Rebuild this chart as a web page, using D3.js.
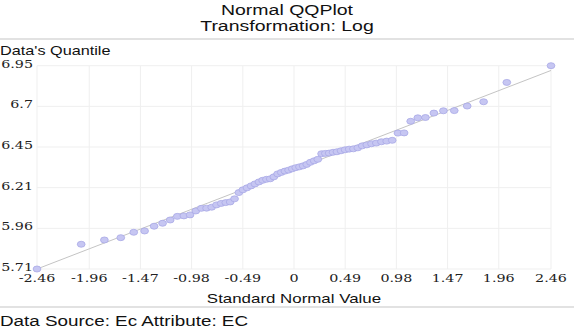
<!DOCTYPE html>
<html>
<head>
<meta charset="utf-8">
<script src="https://cdn.jsdelivr.net/npm/d3@7"></script>
<style>
  html, body { margin: 0; padding: 0; background: #fff; }
  svg { display: block; }
</style>
</head>
<body>
<div id="chart"></div>
<script>
// Normal QQ plot, log-transformed EC values

// theoretical normal quantiles (x) and sorted data quantiles (y)
const normalQuantiles = [
  -2.460, -2.037, -1.815, -1.658, -1.534, -1.430, -1.339, -1.258, -1.185, -1.117,
  -1.054, -0.995, -0.940, -0.887, -0.837, -0.788, -0.742, -0.697, -0.653, -0.611,
  -0.569, -0.528, -0.489, -0.450, -0.411, -0.374, -0.336, -0.300, -0.264, -0.228,
  -0.193, -0.157, -0.122, -0.087, -0.052, -0.017, 0.017, 0.052, 0.087, 0.122,
  0.157, 0.193, 0.228, 0.264, 0.300, 0.336, 0.374, 0.411, 0.450, 0.489,
  0.528, 0.569, 0.611, 0.653, 0.697, 0.742, 0.788, 0.837, 0.887, 0.940,
  0.995, 1.054, 1.117, 1.185, 1.258, 1.339, 1.430, 1.534, 1.658, 1.815,
  2.037, 2.460
];
const dataQuantiles = [
  5.710, 5.861, 5.887, 5.901, 5.934, 5.942, 5.971, 5.989, 6.009, 6.031,
  6.034, 6.040, 6.064, 6.080, 6.081, 6.087, 6.101, 6.110, 6.115, 6.119,
  6.138, 6.176, 6.193, 6.205, 6.217, 6.229, 6.241, 6.251, 6.257, 6.260,
  6.272, 6.290, 6.299, 6.307, 6.313, 6.321, 6.328, 6.333, 6.339, 6.348,
  6.361, 6.370, 6.379, 6.413, 6.415, 6.417, 6.422, 6.425, 6.431, 6.437,
  6.441, 6.443, 6.449, 6.461, 6.467, 6.474, 6.478, 6.486, 6.490, 6.495,
  6.539, 6.540, 6.611, 6.632, 6.634, 6.661, 6.675, 6.676, 6.704, 6.730,
  6.848, 6.950
];

// reference line end points
const refLineX = [-2.46, 2.46];
const refLineY = [5.71, 6.921];

const xTicks = [-2.46, -1.96, -1.47, -0.98, -0.49, 0, 0.49, 0.98, 1.47, 1.96, 2.46];
const xTickLabels = ['-2.46', '-1.96', '-1.47', '-0.98', '-0.49', '0', '0.49', '0.98', '1.47', '1.96', '2.46'];
const yTicks = [5.71, 5.958, 6.206, 6.454, 6.702, 6.95];
const yTickLabels = ['5.71', '5.96', '6.21', '6.45', '6.7', '6.95'];

// the picture is horizontally stretched, so draw in a narrower box and stretch it
const sx = 1.3;
const W = 574 / sx, H = 330;

const svg = d3.select('#chart').append('svg')
    .attr('width', 574)
    .attr('height', 330)
    .attr('viewBox', `0 0 ${W} ${H}`)
    .attr('preserveAspectRatio', 'none');

const plot = { left: 37 / sx, right: 551 / sx, top: 65.7, bottom: 269 };

const x = d3.scaleLinear().domain([-2.46, 2.46]).range([plot.left, plot.right]);
const y = d3.scaleLinear().domain([5.71, 6.95]).range([plot.bottom, plot.top]);

const sans = 'Arial, "Liberation Sans", Helvetica, sans-serif';
const serif = '"DejaVu Serif", serif';

// titles
svg.append('text')
    .attr('x', W / 2).attr('y', 15)
    .attr('text-anchor', 'middle')
    .style('font-family', sans).style('font-size', '15px').style('fill', '#111')
    .text('Normal QQPlot');
svg.append('text')
    .attr('x', W / 2).attr('y', 31)
    .attr('text-anchor', 'middle')
    .style('font-family', sans).style('font-size', '15px').style('fill', '#111')
    .text('Transformation: Log');

// separators
svg.append('rect').attr('x', 0).attr('y', 38).attr('width', W).attr('height', 2).attr('fill', '#e2e2e2');
svg.append('rect').attr('x', 0).attr('y', 306).attr('width', W).attr('height', 2).attr('fill', '#e2e2e2');

svg.append('text')
    .attr('x', 0).attr('y', 55)
    .style('font-family', sans).style('font-size', '12.5px').style('fill', '#111')
    .text("Data's Quantile");

// grid
const grid = svg.append('g');
grid.selectAll('.vgrid').data(xTicks).enter().append('line')
    .attr('x1', d => x(d)).attr('x2', d => x(d))
    .attr('y1', plot.top).attr('y2', plot.bottom)
    .attr('stroke', '#efefef').attr('stroke-width', 1)
    .attr('vector-effect', 'non-scaling-stroke');
grid.selectAll('.hgrid').data(yTicks).enter().append('line')
    .attr('x1', plot.left).attr('x2', plot.right)
    .attr('y1', d => y(d)).attr('y2', d => y(d))
    .attr('stroke', '#efefef').attr('stroke-width', 1)
    .attr('vector-effect', 'non-scaling-stroke');

// tick labels
svg.selectAll('.ylab').data(yTicks).enter().append('text')
    .attr('x', 33 / sx).attr('y', d => y(d) + 2)
    .attr('text-anchor', 'end')
    .style('font-family', serif).style('font-size', '11px').style('fill', '#222')
    .text((d, i) => yTickLabels[i]);
svg.selectAll('.xlab').data(xTicks).enter().append('text')
    .attr('x', d => x(d)).attr('y', 282)
    .attr('text-anchor', 'middle')
    .style('font-family', serif).style('font-size', '11px').style('fill', '#222')
    .text((d, i) => xTickLabels[i]);

svg.append('text')
    .attr('x', (plot.left + plot.right) / 2).attr('y', 303)
    .attr('text-anchor', 'middle')
    .style('font-family', sans).style('font-size', '13px').style('fill', '#111')
    .text('Standard Normal Value');

svg.append('text')
    .attr('x', 0).attr('y', 326)
    .style('font-family', sans).style('font-size', '14.5px').style('fill', '#111')
    .text('Data Source: Ec Attribute: EC');

// reference line
svg.append('line')
    .attr('x1', x(refLineX[0])).attr('y1', y(refLineY[0]))
    .attr('x2', x(refLineX[1])).attr('y2', y(refLineY[1]))
    .attr('stroke', '#c4c4c4').attr('stroke-width', 1)
    .attr('vector-effect', 'non-scaling-stroke');

// points
const points = normalQuantiles.map((q, i) => ({ q, v: dataQuantiles[i] }));
svg.selectAll('.pt').data(points).enter().append('circle')
    .attr('class', 'pt')
    .attr('cx', d => x(d.q))
    .attr('cy', d => y(d.v))
    .attr('r', 3)
    .attr('fill', '#c6c6f2')
    .attr('stroke', '#a9a9e6')
    .attr('stroke-width', 0.7);
</script>
</body>
</html>
